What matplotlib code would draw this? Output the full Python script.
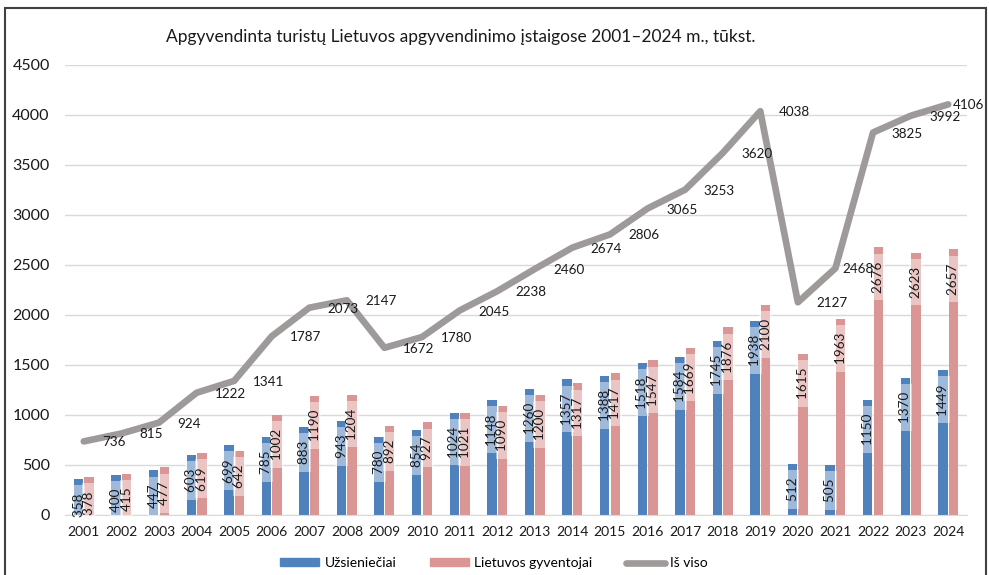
import matplotlib
matplotlib.use('Agg')
import matplotlib.pyplot as plt
import numpy as np
from matplotlib.patches import Rectangle
from matplotlib.lines import Line2D
from matplotlib.patches import Patch

# ---- data ----
years = [str(y) for y in range(2001, 2025)]
foreigners = [358, 400, 447, 603, 699, 785, 883, 943, 780, 854, 1024, 1148,
              1260, 1357, 1388, 1518, 1584, 1745, 1938, 512, 505, 1150, 1370, 1449]
residents = [378, 415, 477, 619, 642, 1002, 1190, 1204, 892, 927, 1021, 1090,
             1200, 1317, 1417, 1547, 1669, 1876, 2100, 1615, 1963, 2676, 2623, 2657]
total = [736, 815, 924, 1222, 1341, 1787, 2073, 2147, 1672, 1780, 2045, 2238,
         2460, 2674, 2806, 3065, 3253, 3620, 4038, 2127, 2468, 3825, 3992, 4106]
yticks = [0, 500, 1000, 1500, 2000, 2500, 3000, 3500, 4000, 4500]
series_names = ['Užsieniečiai', 'Lietuvos gyventojai', 'Iš viso']
title = 'Apgyvendinta turistų Lietuvos apgyvendinimo įstaigose 2001–2024 m., tūkst.'

# ---- style ----
plt.rcParams['font.family'] = ['Lato', 'DejaVu Sans']
BLUE = '#4F81BD'
PINK = '#D99694'
GRAY = '#9E9A9A'
TXT = '#1a1a1a'

W, H = 989, 575
fig = plt.figure(figsize=(W / 100, H / 100), dpi=100)
ax = fig.add_axes([65 / W, 60 / H, 902 / W, 450 / H])

x = np.arange(len(years))
bw = 0.25
off = 0.14
ax.bar(x - off, foreigners, bw, color=BLUE, zorder=2)
ax.bar(x + off, residents, bw, color=PINK, zorder=2)
ax.plot(x, total, color=GRAY, lw=4.8, solid_joinstyle='round',
        solid_capstyle='round', zorder=5)

ax.set_xlim(-0.5, len(years) - 0.5)
ax.set_ylim(yticks[0], yticks[-1])
ax.set_yticks(yticks)
ax.set_xticks(x)
ax.set_xticklabels(years)
ax.yaxis.grid(True, color='#D9D9D9', lw=1)
ax.set_axisbelow(True)
for s in ['top', 'right', 'left']:
    ax.spines[s].set_visible(False)
ax.spines['bottom'].set_color('#D9D9D9')
ax.tick_params(axis='y', length=0, pad=11, labelsize=11.5, labelcolor=TXT)
ax.tick_params(axis='x', length=0, pad=8, labelsize=10, labelcolor=TXT)

# bar value labels (rotated, inside end, translucent box)
for xs, vals in ((x - off, foreigners), (x + off, residents)):
    for xi, v in zip(xs, vals):
        ax.annotate(f'  {v}  ', (xi, v), xytext=(0, -5), textcoords='offset points',
                    rotation=90, ha='center', va='top', fontsize=9.7, color=TXT,
                    bbox=dict(boxstyle='square,pad=0.05', fc='white', ec='none', alpha=0.45),
                    zorder=3)

# total labels (to the right of points)
label_dx = {20: 5.0, 23: 3.6}
for i, v in enumerate(total):
    ax.annotate(str(v), (x[i], v), xytext=(label_dx.get(i, 13.3), 0),
                textcoords='offset points', ha='left', va='center_baseline',
                fontsize=9.7, color=TXT, annotation_clip=False, zorder=6)

fig.text(461 / W, 1 - 37 / H, title, ha='center', va='center', fontsize=12.5, color=TXT)

handles = [Patch(color=BLUE), Patch(color=PINK),
           Line2D([], [], color=GRAY, lw=4.8, solid_capstyle='round')]
fig.legend(handles, series_names, loc='center', bbox_to_anchor=(494 / W, 1 - 563 / H),
           ncol=3, frameon=False, fontsize=10, handlelength=2.8, handleheight=0.5,
           handletextpad=0.4, columnspacing=2.4)

fig.patches.append(Rectangle((5 / W, -0.1), 981 / W, 1.1 - 8 / H, transform=fig.transFigure,
                             fill=False, ec='#404040', lw=1.5))

fig.savefig('out.png', dpi=100)
